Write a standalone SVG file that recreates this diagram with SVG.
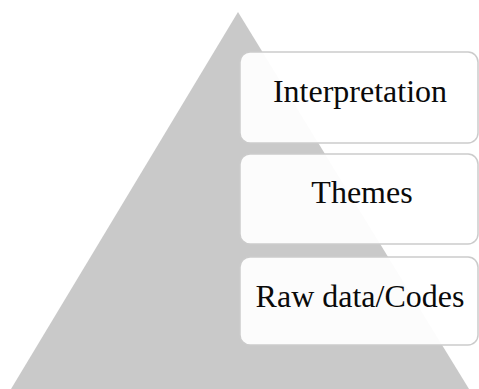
<svg xmlns="http://www.w3.org/2000/svg" width="479" height="389" viewBox="0 0 479 389">
  <style>
    .box { fill: #ffffff; fill-opacity: 0.94; stroke: #cbcbcb; stroke-width: 1.5; }
    .lbl { font-family: "Liberation Serif", "Times New Roman", serif; font-size: 32px; fill: #0a0a0a; text-anchor: middle; }
  </style>
  <rect width="479" height="389" fill="#ffffff"/>
  <g id="pyramid">
    <polygon points="238,12 469,389 11,389" fill="#c9c9c9"/>
  </g>
  <g id="connectors"/>
  <g id="interpretation">
    <rect class="box" x="240" y="52" width="238" height="91" rx="10"/>
    <text class="lbl" x="360" y="102">Interpretation</text>
  </g>
  <g id="themes">
    <rect class="box" x="240" y="154" width="238" height="90" rx="10"/>
    <text class="lbl" x="362" y="203">Themes</text>
  </g>
  <g id="raw-data">
    <rect class="box" x="240" y="257" width="238" height="88" rx="10"/>
    <text class="lbl" x="360" y="307">Raw data/Codes</text>
  </g>
</svg>
